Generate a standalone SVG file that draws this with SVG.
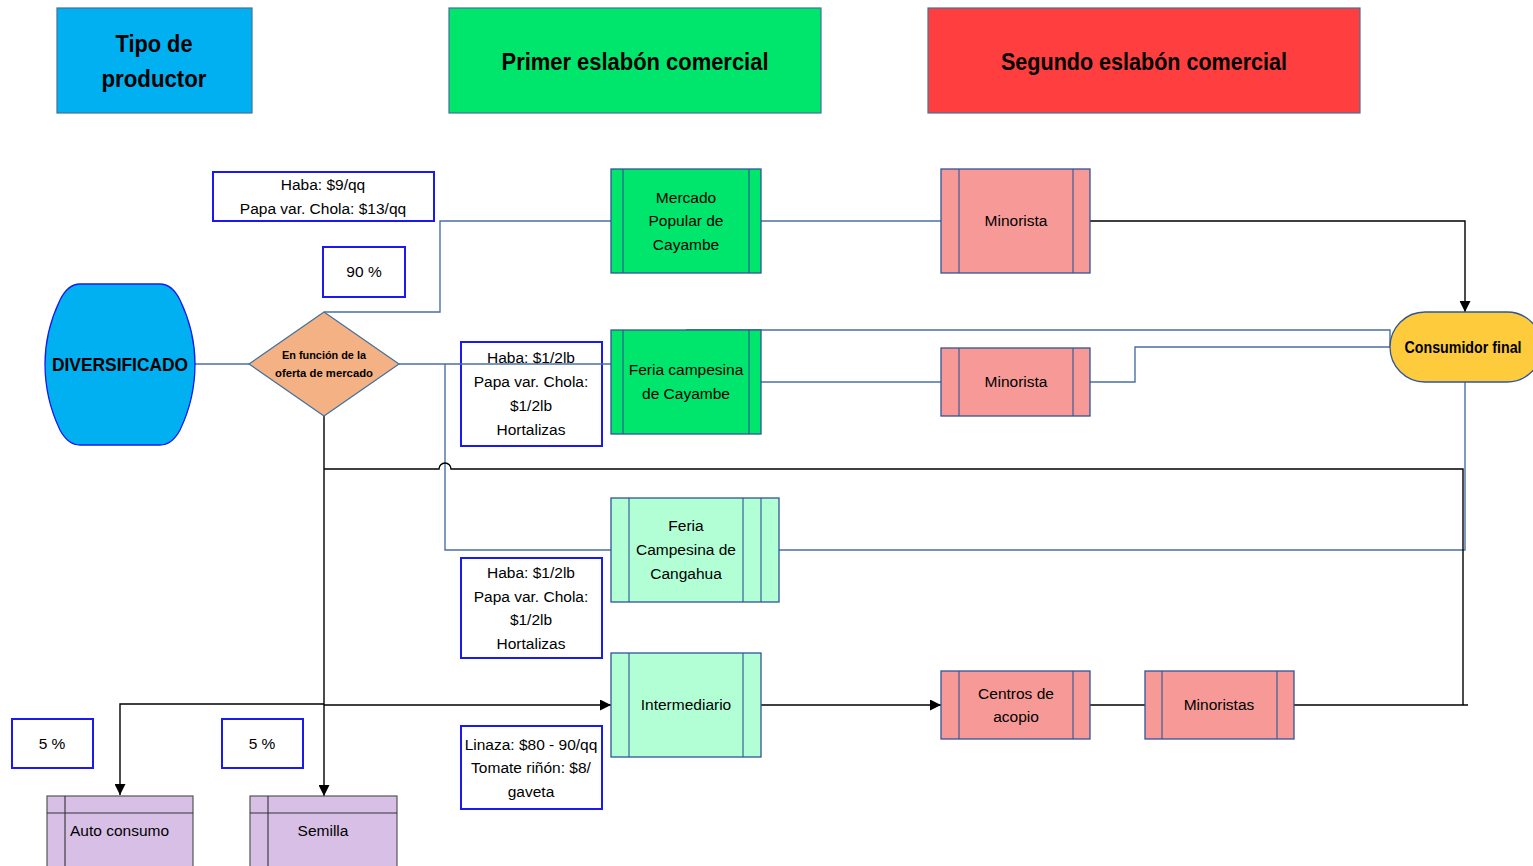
<svg xmlns="http://www.w3.org/2000/svg" width="1533" height="866" viewBox="0 0 1533 866">
<style>
text{font-family:"Liberation Sans",Arial,sans-serif;fill:#000;text-anchor:middle}
.t{font-size:15.5px}
.hb{font-size:24px;font-weight:bold}
.hdr{stroke:#41719C;stroke-width:1.2}
.pb{fill:#fff;stroke:#1a1af0;stroke-width:2}
.nd{stroke:#2F5597;stroke-width:1.3}
.in{stroke:#2F5597;stroke-width:1.1;fill:none}
.g{fill:#00E66C}
.m{fill:#B2FFD6}
.p{fill:#F79A97}
.v{fill:#D8BFE6;stroke:#555;stroke-width:1.2}
.vi{stroke:#333;stroke-width:1.1;fill:none}
.cb{fill:none;stroke:#4A6FA5;stroke-width:1.4}
.ck{fill:none;stroke:#000;stroke-width:1.4}
</style>
<defs>
<marker id="ar" viewBox="0 0 10 10" refX="10" refY="5" markerWidth="11" markerHeight="11" markerUnits="userSpaceOnUse" orient="auto">
<path d="M0,0 L10,5 L0,10 z" fill="#000"/>
</marker>
</defs>
<rect width="1533" height="866" fill="#fff"/>

<!-- headers -->
<g id="hdr-tipo">
<rect class="hdr" x="57" y="8" width="195" height="105" fill="#00B0F0"/>
<text class="hb" x="154" y="52" textLength="77" lengthAdjust="spacingAndGlyphs">Tipo de</text>
<text class="hb" x="154" y="87" textLength="105" lengthAdjust="spacingAndGlyphs">productor</text>
</g>
<g id="hdr-primer">
<rect class="hdr" x="449" y="8" width="372" height="105" fill="#00E66C"/>
<text class="hb" x="635" y="70" textLength="267" lengthAdjust="spacingAndGlyphs">Primer eslabón comercial</text>
</g>
<g id="hdr-segundo">
<rect class="hdr" x="928" y="8" width="432" height="105" fill="#FF3F3F"/>
<text class="hb" x="1144" y="70" textLength="286" lengthAdjust="spacingAndGlyphs">Segundo eslabón comercial</text>
</g>

<!-- price / percentage labels -->
<g id="lbl-precio1">
<rect class="pb" x="213" y="172" width="221" height="49"/>
<text class="t" x="323" y="190">Haba: $9/qq</text>
<text class="t" x="323" y="214">Papa var. Chola: $13/qq</text>
</g>
<g id="lbl-90">
<rect class="pb" x="323" y="247" width="82" height="50"/>
<text class="t" x="364" y="277">90 %</text>
</g>
<g id="lbl-precio2">
<rect class="pb" x="461" y="342" width="141" height="104"/>
<text class="t" x="531" y="363">Haba: $1/2lb</text>
<text class="t" x="531" y="387">Papa var. Chola:</text>
<text class="t" x="531" y="411">$1/2lb</text>
<text class="t" x="531" y="435">Hortalizas</text>
</g>
<g id="lbl-precio3">
<rect class="pb" x="461" y="558" width="141" height="100"/>
<text class="t" x="531" y="578">Haba: $1/2lb</text>
<text class="t" x="531" y="602">Papa var. Chola:</text>
<text class="t" x="531" y="625">$1/2lb</text>
<text class="t" x="531" y="649">Hortalizas</text>
</g>
<g id="lbl-precio4">
<rect class="pb" x="461" y="726" width="141" height="83"/>
<text class="t" x="531" y="750">Linaza: $80 - 90/qq</text>
<text class="t" x="531" y="773">Tomate riñón: $8/</text>
<text class="t" x="531" y="797">gaveta</text>
</g>
<g id="lbl-5a">
<rect class="pb" x="12" y="719" width="81" height="49"/>
<text class="t" x="52" y="749">5 %</text>
</g>
<g id="lbl-5b">
<rect class="pb" x="222" y="719" width="81" height="49"/>
<text class="t" x="262" y="749">5 %</text>
</g>

<!-- connectors -->
<g id="connectors">
<path class="cb" d="M195,364 H249"/>
<path class="cb" d="M324,312 H440 V221 H611"/>
<path class="cb" d="M399,364 H611"/>
<path class="cb" d="M445,364 V550 H611"/>
<path class="cb" d="M761,221 H941"/>
<path class="cb" d="M761,382 H941"/>
<path class="cb" d="M686,330 H1390 V347"/>
<path class="cb" d="M1090,382 H1135 V347 H1390"/>
<path class="cb" d="M1465,382 V550 H779"/>
<path class="ck" d="M1090,221 H1465 V312" marker-end="url(#ar)"/>
<path class="ck" d="M324,416 V796" marker-end="url(#ar)"/>
<path class="ck" d="M324,469 H439 A6,6 0 0 1 451,469 H1463 V705"/>
<path class="ck" d="M324,704 H120 V795" marker-end="url(#ar)"/>
<path class="ck" d="M324,705 H611" marker-end="url(#ar)"/>
<path class="ck" d="M761,705 H941" marker-end="url(#ar)"/>
<path class="ck" d="M1090,705 H1145"/>
<path class="ck" d="M1294,705 H1468"/>
</g>

<!-- nodes -->
<g id="n-diversificado">
<path d="M80,284 H160 Q172,284 180,300 C192,325 195,345 195,364 C195,384 192,405 180,430 Q172,445 160,445 H80 Q68,445 60,430 C48,405 45,384 45,364 C45,345 48,325 60,300 Q68,284 80,284 Z" fill="#00B0F0" stroke="#1a1af0" stroke-width="1.3"/>
<text x="120" y="371" style="font-size:19px;font-weight:bold" textLength="136" lengthAdjust="spacingAndGlyphs">DIVERSIFICADO</text>
</g>
<g id="n-decision">
<path d="M324,312 L399,364 L324,416 L249,364 Z" fill="#F4B183" stroke="#41719C" stroke-width="1.2"/>
<text x="324" y="359" style="font-size:11px;font-weight:bold" textLength="84" lengthAdjust="spacingAndGlyphs">En función de la</text>
<text x="324" y="377" style="font-size:11px;font-weight:bold" textLength="98" lengthAdjust="spacingAndGlyphs">oferta de mercado</text>
</g>
<g id="n-mercado">
<rect class="nd g" x="611" y="169" width="150" height="104"/>
<path class="in" d="M623,169 V273 M749,169 V273"/>
<text class="t" x="686" y="203">Mercado</text>
<text class="t" x="686" y="226">Popular de</text>
<text class="t" x="686" y="250">Cayambe</text>
</g>
<g id="n-feria-cayambe">
<rect class="nd g" x="611" y="330" width="150" height="104"/>
<path class="in" d="M623,330 V434 M749,330 V434"/>
<text class="t" x="686" y="375">Feria campesina</text>
<text class="t" x="686" y="399">de Cayambe</text>
</g>
<g id="n-feria-cangahua">
<rect class="nd m" x="611" y="498" width="168" height="104"/>
<path class="in" d="M629,498 V602 M743,498 V602 M761,498 V602"/>
<text class="t" x="686" y="531">Feria</text>
<text class="t" x="686" y="555">Campesina de</text>
<text class="t" x="686" y="579">Cangahua</text>
</g>
<g id="n-intermediario">
<rect class="nd m" x="611" y="653" width="150" height="104"/>
<path class="in" d="M629,653 V757 M743,653 V757"/>
<text class="t" x="686" y="710">Intermediario</text>
</g>
<g id="n-minorista1">
<rect class="nd p" x="941" y="169" width="149" height="104"/>
<path class="in" d="M959,169 V273 M1073,169 V273"/>
<text class="t" x="1016" y="226">Minorista</text>
</g>
<g id="n-minorista2">
<rect class="nd p" x="941" y="348" width="149" height="68"/>
<path class="in" d="M959,348 V416 M1073,348 V416"/>
<text class="t" x="1016" y="387">Minorista</text>
</g>
<g id="n-centros">
<rect class="nd p" x="941" y="671" width="149" height="68"/>
<path class="in" d="M959,671 V739 M1073,671 V739"/>
<text class="t" x="1016" y="699">Centros de</text>
<text class="t" x="1016" y="722">acopio</text>
</g>
<g id="n-minoristas">
<rect class="nd p" x="1145" y="671" width="149" height="68"/>
<path class="in" d="M1162,671 V739 M1277,671 V739"/>
<text class="t" x="1219" y="710">Minoristas</text>
</g>
<g id="n-consumidor">
<rect class="nd" x="1390" y="312" width="152" height="70" rx="35" ry="35" fill="#FDCB3B"/>
<text x="1463" y="353" style="font-size:17px;font-weight:bold" textLength="117" lengthAdjust="spacingAndGlyphs">Consumidor final</text>
</g>
<g id="n-autoconsumo">
<rect class="v" x="47" y="796" width="146" height="80"/>
<path class="vi" d="M47,813 H193 M65,796 V876"/>
<text class="t" x="70" y="836" style="text-anchor:start">Auto consumo</text>
</g>
<g id="n-semilla">
<rect class="v" x="250" y="796" width="147" height="80"/>
<path class="vi" d="M250,813 H397 M268,796 V876"/>
<text class="t" x="323" y="836">Semilla</text>
</g>
</svg>
